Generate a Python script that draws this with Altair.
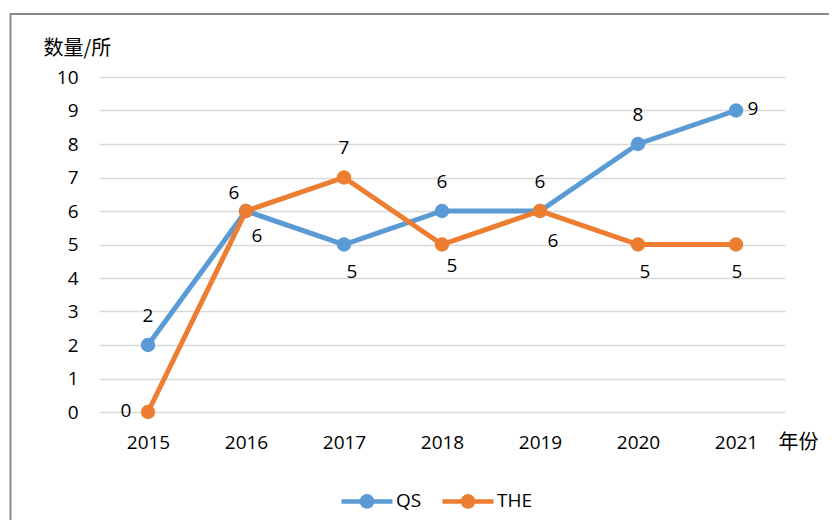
import altair as alt
import pandas as pd

years = ["2015", "2016", "2017", "2018", "2019", "2020", "2021"]
qs = [2, 6, 5, 6, 6, 8, 9]
the = [0, 6, 7, 5, 6, 5, 5]
series = ["QS", "THE"]
colors = ["#5B9BD5", "#ED7D31"]

# label placement (style only): pixel offsets of each data label
qs_dx = [0, -12, 8, 0, 0, 0, 17]
qs_dy = [-29, -18, 27, -29, -29, -29, -2]
the_dx = [-22, 11, 0, 10, 13, 7, 1]
the_dy = [-1, 25, -30, 21, 30, 27, 27]

rows = []
for name, vals, dxs, dys in [("QS", qs, qs_dx, qs_dy), ("THE", the, the_dx, the_dy)]:
    for y, v, dx, dy in zip(years, vals, dxs, dys):
        rows.append({"year": y, "value": v, "series": name, "dx": dx, "dy": dy})
df = pd.DataFrame(rows)

FONT = "Open Sans"
CJK = "Noto Sans CJK SC"

legend_path = ("M-1,0L1,0M-0.2,0A0.2,0.2,0,1,1,0.2,0"
               "A0.2,0.2,0,1,1,-0.2,0Z")

x_enc = alt.X("year:O", scale=alt.Scale(type="point", padding=0.5),
              axis=alt.Axis(title="年份", titleFont=CJK, titleFontSize=20,
                            titleFontWeight="normal", titleAngle=0,
                            titleAlign="left", titleBaseline="middle",
                            titleX=679, titleY=30, titleColor="#000",
                            labelAngle=0, labelFont=FONT, labelFontSize=19,
                            labelColor="#000", labelBaseline="middle",
                            labelPadding=30, ticks=False, tickSize=0,
                            domain=False, grid=False))
y_enc = alt.Y("value:Q", scale=alt.Scale(domain=[0, 10], nice=False),
              axis=alt.Axis(title="数量/所", titleFont=CJK, titleFontSize=20,
                            titleFontWeight="normal", titleAngle=0,
                            titleAlign="left", titleBaseline="middle",
                            titleX=-56, titleY=-29, titleColor="#000",
                            values=list(range(0, 11)), labelFont=FONT,
                            labelFontSize=19, labelColor="#000",
                            labelPadding=21, ticks=False, tickSize=0,
                            domain=False, grid=True, gridColor="#D9D9D9",
                            gridWidth=1.5))
color_enc = alt.Color("series:N",
                      scale=alt.Scale(domain=series, range=colors),
                      legend=alt.Legend(title=None, orient="none",
                                        direction="horizontal",
                                        legendX=240, legendY=396,
                                        symbolType=legend_path,
                                        symbolSize=2601,
                                        symbolStrokeWidth=4.5,
                                        labelFont=FONT, labelFontSize=19,
                                        labelColor="#000", labelOffset=1,
                                        columnPadding=11, padding=0))

base = alt.Chart(df)

frame = base.mark_rect(fillOpacity=0, stroke="#898989", strokeWidth=2).encode(
    x=alt.value(-88.5), x2=alt.value(1000),
    y=alt.value(-63), y2=alt.value(1000)
).transform_filter("datum.year == '2015' && datum.series == 'QS'")

layers = [frame]
for name in series:
    sub = base.transform_filter(alt.datum.series == name)
    layers.append(sub.mark_line(strokeWidth=5).encode(x=x_enc, y=y_enc, color=color_enc))
    layers.append(sub.mark_circle(size=210, opacity=1).encode(x=x_enc, y=y_enc, color=color_enc))

for r in rows:
    layers.append(
        base.transform_filter(
            (alt.datum.series == r["series"]) & (alt.datum.year == r["year"])
        ).mark_text(font=FONT, fontSize=19, color="#000", align="center",
                    baseline="middle", dx=r["dx"], dy=r["dy"]).encode(
            x=x_enc, y=y_enc, text="value:Q")
    )

chart = alt.layer(*layers).properties(
    width=686, height=335,
    autosize=alt.AutoSizeParams(type="none"),
    padding={"left": 91, "top": 69, "right": 44, "bottom": 108},
).configure(background="white").configure_view(stroke=None, strokeWidth=0)

chart.save("out.html", embed_options={"renderer": "svg", "actions": False})
